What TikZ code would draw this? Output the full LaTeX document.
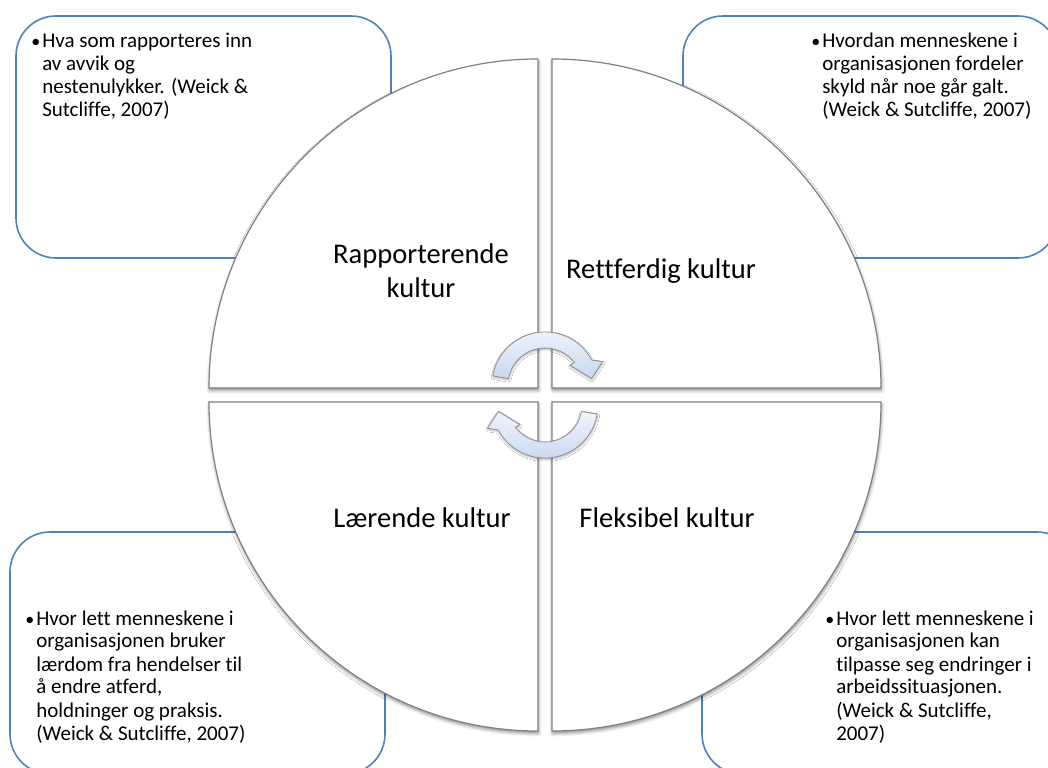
\documentclass[tikz,border=0pt]{standalone}
\usepackage{fontspec}
\setmainfont{Carlito}[Ligatures={TeX,NoCommon}]
\usetikzlibrary{shadows.blur}
\newcommand{\notedot}{{\fontsize{13.5pt}{17.25pt}\selectfont\textbullet}}

\begin{document}
\begin{tikzpicture}[x=0.75pt, y=0.75pt,
    notebox/.style={draw=boxblue, line width=1.2pt, fill=white, rounded corners=30pt},
    quarter/.style={draw=quartergray, line width=0.9pt, fill=white,
        blur shadow={shadow xshift=0.4pt, shadow yshift=-1.8pt, shadow blur radius=2.5pt, shadow opacity=45}},
    turnarrow/.style={draw=arrowgray, line width=0.6pt, top color=arrowtop, bottom color=arrowbottom,
        blur shadow={shadow xshift=0.3pt, shadow yshift=-1.2pt, shadow blur radius=1.5pt, shadow opacity=30}},
    culture/.style={font=\fontsize{21.4pt}{25.5pt}\selectfont, inner sep=0pt, anchor=base},
    notetext/.style={font=\fontsize{15.75pt}{17.25pt}\selectfont, inner sep=0pt, anchor=base west}]
        \definecolor{boxblue}{RGB}{79, 129, 189}
        \definecolor{quartergray}{RGB}{128, 128, 128}
        \definecolor{arrowgray}{RGB}{150, 150, 150}
        \definecolor{arrowtop}{RGB}{240, 244, 251}
        \definecolor{arrowbottom}{RGB}{200, 216, 240}
        \useasboundingbox (0,0) rectangle (1048,767);
        \clip (0,0) rectangle (1048,767);

        \draw[notebox] (16,509) rectangle (391,751);
        \draw[notebox] (683,509) rectangle (1058,751);
        \draw[notebox] (10,-7) rectangle (385,235);
        \draw[notebox] (702,-7) rectangle (1077,235);

        \coordinate (tl) at (538,379);
        \coordinate (tr) at (552,379);
        \coordinate (bl) at (538,365);
        \coordinate (br) at (552,365);
        \filldraw[quarter] (tl) -- ++(0,329) arc[start angle=90, end angle=180, radius=329] -- cycle;
        \filldraw[quarter] (tr) -- ++(329,0) arc[start angle=0, end angle=90, radius=329] -- cycle;
        \filldraw[quarter] (bl) -- ++(-329,0) arc[start angle=180, end angle=270, radius=329] -- cycle;
        \filldraw[quarter] (br) -- ++(0,-329) arc[start angle=270, end angle=360, radius=329] -- cycle;

        \coordinate (upturn) at (545,382);
        \coordinate (downturn) at (545,362);
        \filldraw[turnarrow, shift={(upturn)}] (170:53) arc[start angle=170, end angle=28, radius=53]
            -- (22:62) -- (8:47) -- (38:32) -- (37:37) arc[start angle=37, end angle=170, radius=37] -- cycle;
        \filldraw[turnarrow, shift={(downturn)}] (350:53) arc[start angle=350, end angle=208, radius=53]
            -- (202:62) -- (188:47) -- (218:32) -- (217:37) arc[start angle=217, end angle=350, radius=37] -- cycle;

        \node[culture] (rapport) at (421,503) {\begin{tabular}[t]{@{}c@{}}Rapporterende\\kultur\end{tabular}};
        \node[culture] (rett) at (661,488) {Rettferdig kultur};
        \node[culture] (laer) at (422,239) {Lærende kultur};
        \node[culture] (fleks) at (667,239) {Fleksibel kultur};

        \node[notetext] (rapnote) at (31,719) {\begin{tabular}[t]{@{}p{8.25pt}@{}l@{}}
            \notedot & Hva som rapporteres inn\\ & av avvik og\\ & nestenulykker. (Weick \&\\ & Sutcliffe, 2007)\end{tabular}};
        \node[notetext] (rettnote) at (811,719) {\begin{tabular}[t]{@{}p{8.25pt}@{}l@{}}
            \notedot & Hvordan menneskene i\\ & organisasjonen fordeler\\ & skyld når noe går galt.\\ & (Weick \& Sutcliffe, 2007)\end{tabular}};
        \node[notetext] (laernote) at (25,142) {\begin{tabular}[t]{@{}p{8.25pt}@{}l@{}}
            \notedot & Hvor lett menneskene i\\ & organisasjonen bruker\\ & lærdom fra hendelser til\\ & å endre atferd,\\ & holdninger og praksis.\\ & (Weick \& Sutcliffe, 2007)\end{tabular}};
        \node[notetext] (fleksnote) at (825,142) {\begin{tabular}[t]{@{}p{8.25pt}@{}l@{}}
            \notedot & Hvor lett menneskene i\\ & organisasjonen kan\\ & tilpasse seg endringer i\\ & arbeidssituasjonen.\\ & (Weick \& Sutcliffe,\\ & 2007)\end{tabular}};
    \end{tikzpicture}
\end{document}
